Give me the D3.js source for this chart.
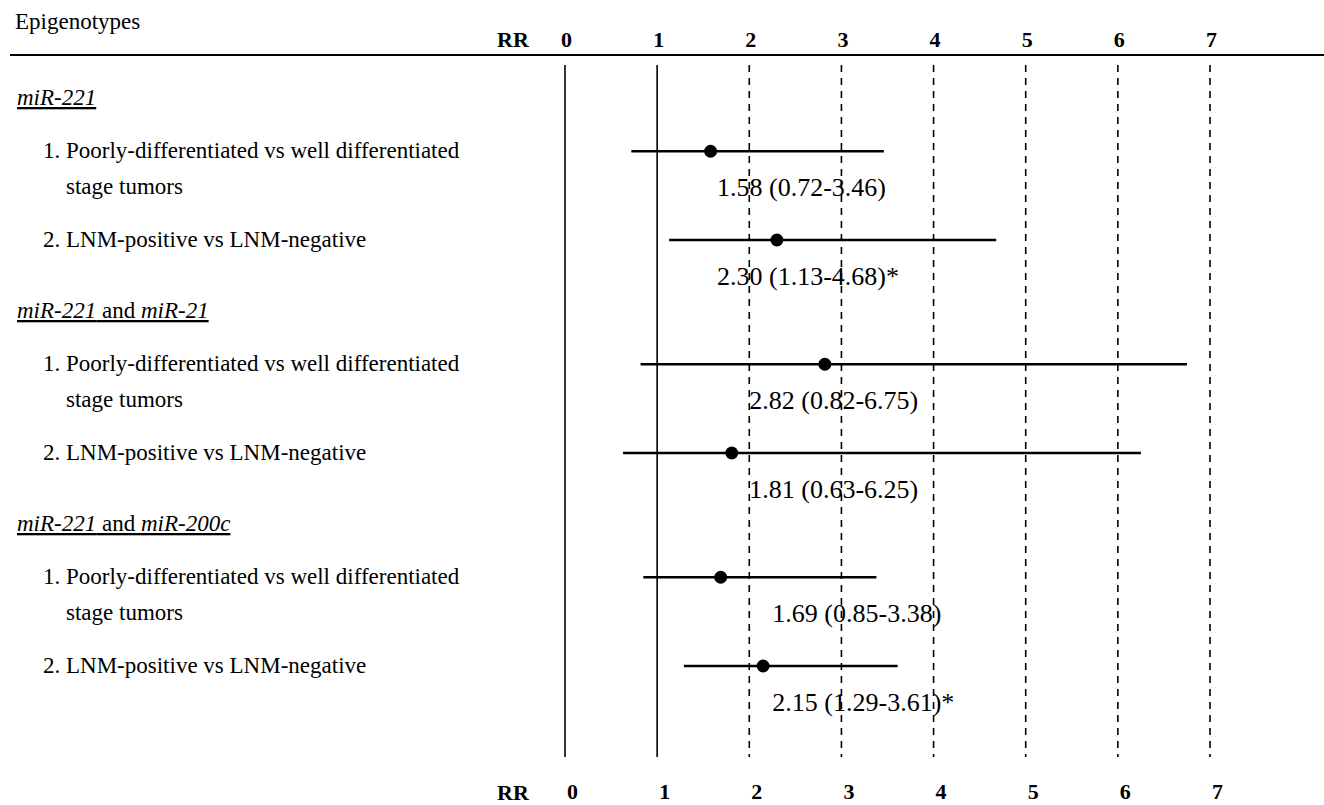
<!DOCTYPE html>
<html>
<head>
<meta charset="utf-8">
<script src="https://cdn.jsdelivr.net/npm/d3@7"></script>
<style>
  body { margin: 0; background: #fff; }
</style>
</head>
<body>
<script>
// forest plot of relative risks per epigenotype

var groupNames = [
  [["miR-221", true]],
  [["miR-221", true], [" and ", false], ["miR-21", true]],
  [["miR-221", true], [" and ", false], ["miR-200c", true]]
];
var comparisons = [
  ["1.", "Poorly-differentiated vs well differentiated", "stage tumors"],
  ["2.", "LNM-positive vs LNM-negative"]
];
var rr    = [1.58, 2.30, 2.82, 1.81, 1.69, 2.15];
var lower = [0.72, 1.13, 0.82, 0.63, 0.85, 1.29];
var upper = [3.46, 4.68, 6.75, 6.25, 3.38, 3.61];
var signif = [false, true, false, false, false, true];
var ticks = [0, 1, 2, 3, 4, 5, 6, 7];

var W = 1324, H = 805;
var FONT = "'Liberation Serif', 'Times New Roman', serif";
var svg = d3.select("body").append("svg").attr("width", W).attr("height", H)
  .style("font-family", FONT);

var x = d3.scaleLinear().domain([0, 7]).range([565, 1210]);
// vertical slots: header, then the two comparisons
var y = d3.scaleLinear().domain([0, 1]).range([98, 133.5]);
var labelAt = [1.65, 2.0, 2.25]; // where the rr text starts, per group

svg.append("text").attr("x", 15).attr("y", 29).style("font-size", "23px").text("Epigenotypes");
svg.append("line").attr("x1", 10).attr("x2", W).attr("y1", 55).attr("y2", 55)
  .attr("stroke", "#000").attr("stroke-width", 2);

// reference lines
svg.selectAll(".vline").data(ticks).enter().append("line")
  .attr("x1", d => x(d)).attr("x2", d => x(d))
  .attr("y1", 65).attr("y2", 757)
  .attr("stroke", "#000").attr("stroke-width", 1.6)
  .attr("stroke-dasharray", d => d < 2 ? null : "7,6");

var axTop = svg.append("g").attr("transform", "translate(1,50)")
  .call(d3.axisTop(x).tickValues(ticks).tickSize(0).tickFormat(d3.format("d")));
var axBot = svg.append("g").attr("transform", "translate(7,780)")
  .call(d3.axisBottom(x).tickValues(ticks).tickSize(0).tickFormat(d3.format("d")));
[axTop, axBot].forEach(function(g) {
  g.select(".domain").remove();
  g.attr("font-family", null).attr("font-size", null);
  g.selectAll("text").style("font-family", FONT).style("font-size", "22px").style("font-weight", "bold");
});
svg.append("text").attr("x", 497).attr("y", 47).style("font-size", "22px").style("font-weight", "bold").text("RR");
svg.append("text").attr("x", 497).attr("y", 800).style("font-size", "22px").style("font-weight", "bold").text("RR");

// rows
var rows = [];
groupNames.forEach(function(g, gi) {
  comparisons.forEach(function(c, ci) {
    var i = gi * 2 + ci;
    rows.push({ g: gi, c: c, slot: gi * 6 + (ci === 0 ? 1.5 : 4),
      rr: rr[i], lo: lower[i], hi: upper[i], sig: signif[i] });
  });
});

groupNames.forEach(function(g, gi) {
  var t = svg.append("text").attr("x", 17).attr("y", y(gi * 6) + 7)
    .style("font-size", "23px").style("text-decoration", "underline");
  g.forEach(function(p) {
    t.append("tspan").style("font-style", p[1] ? "italic" : "normal").text(p[0]);
  });
});

var row = svg.selectAll(".row").data(rows).enter().append("g").attr("class", "row");
row.append("text").attr("x", 43).attr("y", d => y(d.slot) + 7).style("font-size", "23px").text(d => d.c[0]);
row.append("text").attr("x", 66).attr("y", d => y(d.slot) + 7).style("font-size", "23px").text(d => d.c[1]);
row.filter(d => d.c.length > 2).append("text").attr("x", 66).attr("y", d => y(d.slot + 1) + 7)
  .style("font-size", "23px").text(d => d.c[2]);

row.append("line")
  .attr("x1", d => x(d.lo)).attr("x2", d => x(d.hi))
  .attr("y1", d => y(d.slot)).attr("y2", d => y(d.slot))
  .attr("stroke", "#000").attr("stroke-width", 2.4);
row.append("circle").attr("cx", d => x(d.rr)).attr("cy", d => y(d.slot)).attr("r", 6.5).attr("fill", "#000");

var f = d3.format(".2f");
row.append("text").attr("x", d => x(labelAt[d.g])).attr("y", d => y(d.slot + 1) + 9)
  .style("font-size", "26px")
  .text(d => f(d.rr) + " (" + f(d.lo) + "-" + f(d.hi) + ")" + (d.sig ? "*" : ""));
</script>
</body>
</html>
